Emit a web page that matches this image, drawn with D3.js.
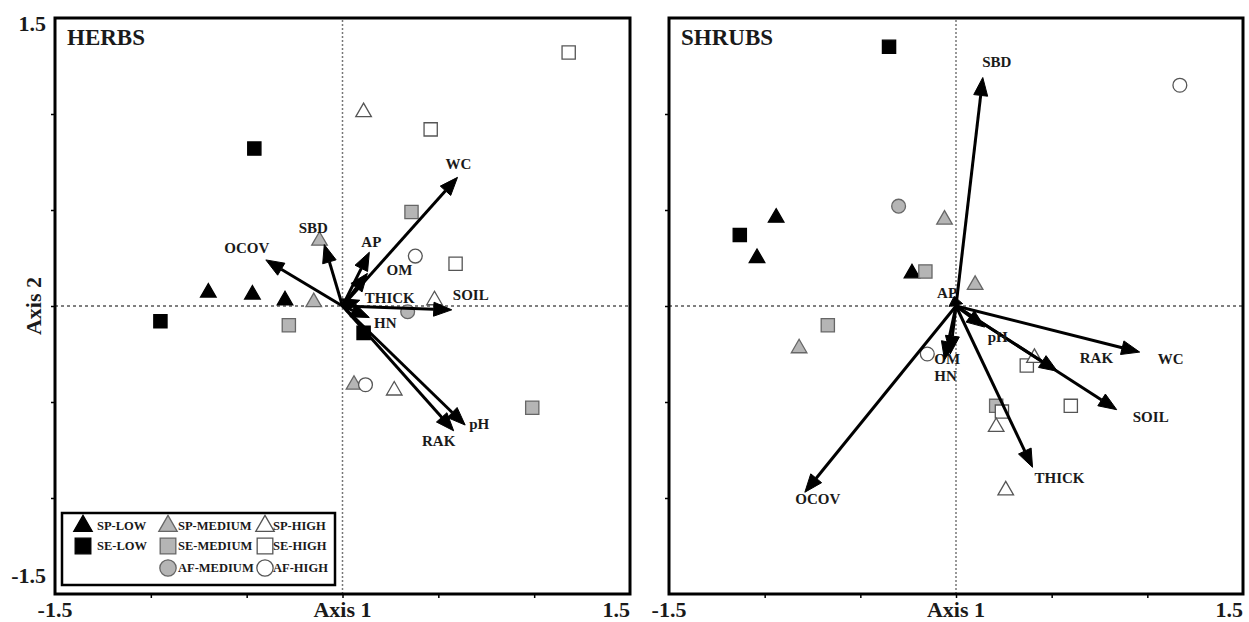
<!DOCTYPE html>
<html>
<head>
<meta charset="utf-8">
<script src="https://cdn.jsdelivr.net/npm/d3@7/dist/d3.min.js"></script>
<style>
  html, body { margin: 0; padding: 0; background: #fff; }
  svg { display: block; font-family: "Liberation Serif", "Times New Roman", serif; font-weight: bold; }
</style>
</head>
<body>
<svg id="chart" width="1249" height="622"></svg>
<script>
// ---------------- DATA ----------------
const groups = ["SP-LOW", "SE-LOW", "SP-MEDIUM", "SE-MEDIUM", "AF-MEDIUM", "SP-HIGH", "SE-HIGH", "AF-HIGH"];
const axisTicks = [-1.5, -1.0, -0.5, 0, 0.5, 1.0, 1.5];
const axisTickLabels = ["-1.5", "1.5"];
const panelTitles = ["HERBS", "SHRUBS"];

// Sample scores: [group, axis1, axis2]
const herbsSites = [
  ["SE-LOW", -0.46, 0.82], ["SE-LOW", -0.95, -0.08], ["SE-LOW", 0.11, -0.14],
  ["SP-LOW", -0.70, 0.07], ["SP-LOW", -0.47, 0.06], ["SP-LOW", -0.30, 0.03],
  ["SP-MEDIUM", -0.12, 0.34], ["SP-MEDIUM", -0.15, 0.02], ["SP-MEDIUM", 0.06, -0.41],
  ["SE-MEDIUM", 0.36, 0.49], ["SE-MEDIUM", -0.28, -0.10], ["SE-MEDIUM", 0.99, -0.53],
  ["AF-MEDIUM", 0.34, -0.03],
  ["SP-HIGH", 0.11, 1.01], ["SP-HIGH", 0.48, 0.03], ["SP-HIGH", 0.27, -0.44],
  ["SE-HIGH", 1.18, 1.32], ["SE-HIGH", 0.46, 0.92], ["SE-HIGH", 0.59, 0.22],
  ["AF-HIGH", 0.38, 0.26], ["AF-HIGH", 0.12, -0.41]
];
const shrubsSites = [
  ["SE-LOW", -0.35, 1.35], ["SE-LOW", -1.13, 0.37],
  ["SP-LOW", -0.94, 0.46], ["SP-LOW", -1.04, 0.25], ["SP-LOW", -0.23, 0.17],
  ["SE-MEDIUM", -0.16, 0.18], ["SE-MEDIUM", -0.67, -0.10], ["SE-MEDIUM", 0.21, -0.52],
  ["SP-MEDIUM", -0.06, 0.45], ["SP-MEDIUM", 0.10, 0.11], ["SP-MEDIUM", -0.82, -0.22],
  ["AF-MEDIUM", -0.30, 0.52],
  ["AF-HIGH", 1.17, 1.15], ["AF-HIGH", -0.15, -0.25],
  ["SE-HIGH", 0.37, -0.31], ["SE-HIGH", 0.24, -0.55], ["SE-HIGH", 0.60, -0.52],
  ["SP-HIGH", 0.41, -0.27], ["SP-HIGH", 0.21, -0.63], ["SP-HIGH", 0.26, -0.96]
];

// Environmental vectors: [name, axis1, axis2]
const herbsVectors = [
  ["WC", 0.60, 0.67], ["SBD", -0.095, 0.32], ["AP", 0.14, 0.28], ["OM", 0.13, 0.17],
  ["OCOV", -0.40, 0.24], ["THICK", 0.09, 0.03], ["SOIL", 0.57, -0.02],
  ["HN", 0.14, -0.06], ["pH", 0.64, -0.62], ["RAK", 0.58, -0.65]
];
const shrubsVectors = [
  ["SBD", 0.14, 1.19], ["OCOV", -0.79, -0.97], ["WC", 0.96, -0.24], ["SOIL", 0.84, -0.54],
  ["RAK", 0.53, -0.34], ["THICK", 0.40, -0.84], ["pH", 0.15, -0.11],
  ["OM", -0.03, -0.25], ["HN", -0.06, -0.28], ["AP", -0.01, 0.05]
];

// Label placement (pixel offsets from arrow tip)
const herbsLabelOffsets = {
  WC: [1, -13], SBD: [-11, -17], AP: [2, -10], OM: [32, -3], OCOV: [-19, -12],
  THICK: [30, -2], SOIL: [19, -15], HN: [16, 5], pH: [14, -1], RAK: [-15, 10]
};
const shrubsLabelOffsets = {
  SBD: [14, -16], OCOV: [13, 7], WC: [31, 7], RAK: [39, -13], SOIL: [34, 7],
  THICK: [27, 11], pH: [13, 10], OM: [-3, 5], HN: [1, 16], AP: [-7, -3]
};

// ---------------- STYLE ----------------
const style = {
  "SP-LOW":    { shape: d3.symbolTriangle, fill: "#000", stroke: "#000" },
  "SE-LOW":    { shape: d3.symbolSquare,   fill: "#000", stroke: "#000" },
  "SP-MEDIUM": { shape: d3.symbolTriangle, fill: "#b5b5b5", stroke: "#666" },
  "SE-MEDIUM": { shape: d3.symbolSquare,   fill: "#b5b5b5", stroke: "#666" },
  "AF-MEDIUM": { shape: d3.symbolCircle,   fill: "#b5b5b5", stroke: "#666" },
  "SP-HIGH":   { shape: d3.symbolTriangle, fill: "#fff", stroke: "#555" },
  "SE-HIGH":   { shape: d3.symbolSquare,   fill: "#fff", stroke: "#555" },
  "AF-HIGH":   { shape: d3.symbolCircle,   fill: "#fff", stroke: "#555" }
};
function symArea(shape, scale) {
  const base = shape === d3.symbolTriangle ? 105 : shape === d3.symbolSquare ? 175 : 150;
  return base * (scale || 1);
}

const svg = d3.select("#chart");

const panels = [
  { x0: 55, x1: 630, y0: 18, y1: 594, sites: herbsSites, vectors: herbsVectors, offs: herbsLabelOffsets, title: panelTitles[0], yLabels: true },
  { x0: 669, x1: 1243, y0: 18, y1: 594, sites: shrubsSites, vectors: shrubsVectors, offs: shrubsLabelOffsets, title: panelTitles[1], yLabels: false }
];

panels.forEach((p, pi) => {
  const x = d3.scaleLinear().domain([-1.5, 1.5]).range([p.x0, p.x1]);
  const y = d3.scaleLinear().domain([-1.5, 1.5]).range([p.y1, p.y0]);
  const g = svg.append("g");

  // zero lines
  g.append("line").attr("x1", x(-1.5)).attr("x2", x(1.5)).attr("y1", y(0)).attr("y2", y(0))
    .attr("stroke", "#000").attr("stroke-width", 1).attr("stroke-dasharray", "3,3");
  g.append("line").attr("x1", x(0)).attr("x2", x(0)).attr("y1", y(-1.5)).attr("y2", y(1.5))
    .attr("stroke", "#777").attr("stroke-width", 1.5).attr("stroke-dasharray", "2,2");

  // axes (ticks only) via d3 axes
  const xAxis = d3.axisBottom(x).tickValues(axisTicks.slice(1, -1)).tickSize(4).tickFormat("");
  const yAxis = d3.axisLeft(y).tickValues(axisTicks.slice(1, -1)).tickSize(4).tickFormat("");
  g.append("g").attr("transform", `translate(0,${y(-1.5)})`).call(xAxis)
    .call(a => a.select(".domain").remove())
    .call(a => a.selectAll("line").attr("stroke", "#000").attr("stroke-width", 1.5));
  g.append("g").attr("transform", `translate(${x(-1.5)},0)`).call(yAxis)
    .call(a => a.select(".domain").remove())
    .call(a => a.selectAll("line").attr("stroke", "#000").attr("stroke-width", 1.5));

  // frame
  g.append("rect").attr("x", x(-1.5)).attr("y", y(1.5))
    .attr("width", x(1.5) - x(-1.5)).attr("height", y(-1.5) - y(1.5))
    .attr("fill", "none").attr("stroke", "#000").attr("stroke-width", 3);

  // sites
  g.selectAll("path.site").data(p.sites).join("path").attr("class", "site")
    .attr("transform", d => `translate(${x(d[1])},${y(d[2])})`)
    .attr("d", d => d3.symbol().type(style[d[0]].shape).size(symArea(style[d[0]].shape))())
    .attr("fill", d => style[d[0]].fill)
    .attr("stroke", d => style[d[0]].stroke)
    .attr("stroke-width", 1.3);

  // vectors
  const ox = x(0), oy = y(0);
  p.vectors.forEach(v => {
    const tx = x(v[1]), ty = y(v[2]);
    const dx = tx - ox, dy = ty - oy;
    const len = Math.hypot(dx, dy);
    const ux = dx / len, uy = dy / len;
    const hl = Math.min(18, len * 0.9), hw = 7;
    const bx = tx - ux * hl, by = ty - uy * hl;
    g.append("line").attr("x1", ox).attr("y1", oy).attr("x2", bx).attr("y2", by)
      .attr("stroke", "#000").attr("stroke-width", 3);
    g.append("path")
      .attr("d", `M${tx},${ty}L${bx - uy * hw},${by + ux * hw}L${bx + uy * hw},${by - ux * hw}Z`)
      .attr("fill", "#000").attr("stroke", "#000").attr("stroke-width", 1);
    const o = p.offs[v[0]];
    g.append("text").attr("x", tx + o[0]).attr("y", ty + o[1])
      .attr("text-anchor", "middle").attr("dominant-baseline", "central")
      .attr("font-size", 15).attr("fill", "#1a1a1a").text(v[0]);
  });

  // title
  g.append("text").attr("x", x(-1.5) + 12).attr("y", y(1.5) + 27)
    .attr("font-size", 23).attr("fill", "#1a1a1a").text(p.title);

  // tick labels
  g.append("text").attr("x", x(-1.5)).attr("y", 617).attr("text-anchor", "middle")
    .attr("font-size", 22).attr("fill", "#1a1a1a").text(axisTickLabels[0]);
  g.append("text").attr("x", x(1.5)).attr("y", 617).attr("text-anchor", "end")
    .attr("font-size", 22).attr("fill", "#1a1a1a").text(axisTickLabels[1]);
  g.append("text").attr("x", x(0)).attr("y", 617).attr("text-anchor", "middle")
    .attr("font-size", 22).attr("fill", "#1a1a1a").text("Axis 1");

  if (p.yLabels) {
    g.append("text").attr("x", x(-1.5) - 9).attr("y", y(1.5) + 13).attr("text-anchor", "end")
      .attr("font-size", 22).attr("fill", "#1a1a1a").text(axisTickLabels[1]);
    g.append("text").attr("x", x(-1.5) - 9).attr("y", y(-1.5) - 11).attr("text-anchor", "end")
      .attr("font-size", 22).attr("fill", "#1a1a1a").text(axisTickLabels[0]);
    g.append("text").attr("transform", `translate(${x(-1.5) - 14},${y(0)}) rotate(-90)`)
      .attr("text-anchor", "middle").attr("font-size", 22).attr("fill", "#1a1a1a").text("Axis 2");
  }

  // legend (herbs only)
  if (pi === 0) {
    const lg = g.append("g");
    lg.append("rect").attr("x", 62).attr("y", 513).attr("width", 273).attr("height", 72)
      .attr("fill", "#fff").attr("stroke", "#000").attr("stroke-width", 2.5);
    const legendLayout = [
      ["SP-LOW", 83, 526, 97], ["SP-MEDIUM", 168, 526, 178], ["SP-HIGH", 265, 526, 273],
      ["SE-LOW", 83, 546, 97], ["SE-MEDIUM", 168, 546, 178], ["SE-HIGH", 265, 546, 273],
      ["AF-MEDIUM", 168, 568, 178], ["AF-HIGH", 265, 568, 273]
    ];
    legendLayout.forEach(([name, sx, sy, tx]) => {
      const st = style[name];
      lg.append("path").attr("transform", `translate(${sx},${sy})`)
        .attr("d", d3.symbol().type(st.shape).size(symArea(st.shape, 1.4))())
        .attr("fill", st.fill).attr("stroke", st.stroke).attr("stroke-width", 1.3);
      lg.append("text").attr("x", tx).attr("y", sy).attr("dominant-baseline", "central")
        .attr("font-size", 12.5).attr("fill", "#1a1a1a").text(name);
    });
  }
});
</script>
</body>
</html>
